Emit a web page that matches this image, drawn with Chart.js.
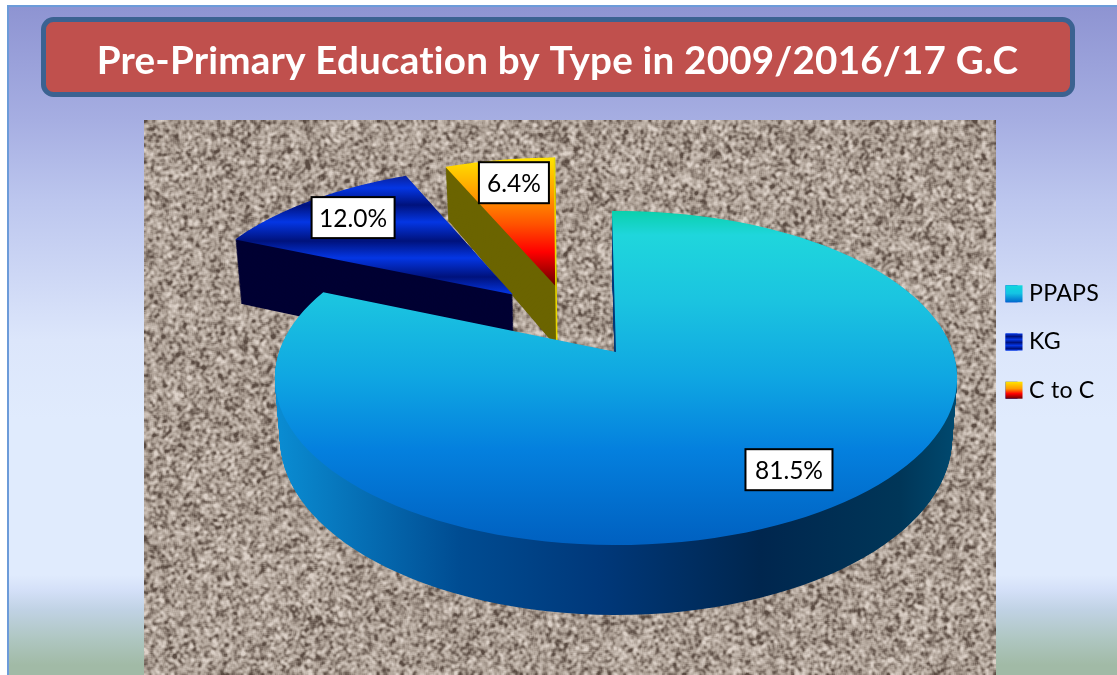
<!DOCTYPE html>
<html>
<head>
<meta charset="utf-8">
<style>html,body{margin:0;padding:0;background:#fff;overflow:hidden}canvas{display:block}</style>
<script src="https://cdn.jsdelivr.net/npm/chart.js@4"></script>
</head>
<body>
<canvas id="c" width="1117" height="675"></canvas>
<script>
const titleText = "Pre-Primary Education by Type in 2009/2016/17 G.C";
const categories = ["PPAPS", "KG", "C to C"];
const shares = [81.5, 12.0, 6.4];
const shareLabels = ["81.5%", "12.0%", "6.4%"];

// drawing style: exploded-slice vectors in disc units, label placement, wall depth factor
const explode = [[0, 0], [-0.345, 0.385], [-0.21, 0.465]];
const apexShift = [[0, 0], [0.021, -0.012], [0.02, -0.037]];
const labelFactor = [0.83, 0.8, 0.77];
const labelNudge = [[-2, -8], [6, 0], [4, -2.5]];
const labelBox = [[87, 41], [83, 41], [70, 41]];
const wallScale = [1, 1.22, 1.1];
const startRotation = -0.8;

const VIEW = {cx: 616, cy: 352, A: 163, B: 337, k: 0.1557, depth: 59, shrink: 0.985};

function project(u, v, t, wall) {
  const d = 1 + VIEW.k * v;
  let x = VIEW.cx + VIEW.B * u / d;
  let y = VIEW.cy - VIEW.A * v / d;
  if (t) {
    x = VIEW.cx + (x - VIEW.cx) * (1 - (1 - VIEW.shrink) * t);
    y += VIEW.depth * wall * t / d;
  }
  return [x, y];
}
function grad(ctx, x0, y0, x1, y1, stops) {
  const g = ctx.createLinearGradient(x0, y0, x1, y1);
  const a = stops[0][0], b = stops[stops.length - 1][0];
  stops.forEach(s => g.addColorStop((s[0] - a) / (b - a), s[1]));
  return g;
}
const topStops = [
  [[211,'#0ad0ac'],[235,'#1fd6dc'],[300,'#1bc4e0'],[378,'#0fa6e2'],[450,'#0480de'],[545,'#0060c0']],
  [[175,'#0a1f96'],[188,'#0436e4'],[205,'#00127c'],[222,'#0436e4'],[241,'#00127c'],[258,'#0436e4'],[277,'#00127c'],[294,'#0436e4']],
  [[157,'#ffe600'],[195,'#ff9a00'],[225,'#ff5000'],[252,'#ff0000'],[285,'#6a0000']]
];
const wallStops = [
  [[278,'#0a8cd2'],[460,'#004c92'],[600,'#00387a'],[760,'#00264e'],[900,'#003658'],[958,'#004a70']],
  null, null
];
const wallFlat = [null, '#000033', '#6b6400'];

// speckled backdrop, from a fixed-seed generator so it never changes
function makeTexture(w, h) {
  const cv = document.createElement('canvas'); cv.width = w; cv.height = h;
  const c = cv.getContext('2d'); const img = c.createImageData(w, h);
  let s = 12345; const rnd = () => (s = (s * 1664525 + 1013904223) >>> 0) / 4294967296;
  let n = new Float32Array(w * h); for (let i = 0; i < n.length; i++) n[i] = rnd();
  const blur = src => {
    const out = new Float32Array(w * h);
    for (let y = 0; y < h; y++) for (let x = 0; x < w; x++) {
      let t = 0, q = 0;
      for (let dy = -1; dy <= 1; dy++) for (let dx = -1; dx <= 1; dx++) {
        const xx = x + dx, yy = y + dy;
        if (xx >= 0 && yy >= 0 && xx < w && yy < h) { t += src[yy * w + xx]; q++; }
      }
      out[y * w + x] = t / q;
    }
    return out;
  };
  n = blur(blur(n));
  for (let i = 0; i < n.length; i++) {
    const t = Math.max(-1, Math.min(1, (n[i] - 0.5) * 6));
    const d = img.data, j = i * 4;
    if (t >= 0) { d[j] = 170 + t * 50; d[j+1] = 157 + t * 52; d[j+2] = 146 + t * 54; }
    else { d[j] = 170 + t * 80; d[j+1] = 157 + t * 82; d[j+2] = 146 + t * 80; }
    d[j+3] = 255;
  }
  c.putImageData(img, 0, 0);
  return cv;
}
const texture = makeTexture(852, 555);

const scene = {
  id: 'scene',
  beforeDraw(chart) {
    const ctx = chart.ctx;
    ctx.save();
    ctx.fillStyle = '#ffffff'; ctx.fillRect(0, 0, 1117, 675);
    ctx.fillStyle = grad(ctx, 0, 7, 0, 675, [[7,'#8e94d2'],[120,'#a6aee2'],[200,'#bcc6ee'],[340,'#dce6fb'],[420,'#e0ebfd'],[575,'#e0ebfd'],[590,'#d4e0f8'],[610,'#c0d2e4'],[640,'#aec6c0'],[665,'#a1baa6'],[675,'#a1baa6']]);
    ctx.fillRect(8, 6, 1109, 669);
    ctx.fillStyle = '#6c9bd9';
    ctx.fillRect(7, 5, 1110, 2); ctx.fillRect(7, 5, 2, 670);
    ctx.beginPath(); ctx.roundRect(43.5, 19.5, 1029, 75, 10);
    ctx.fillStyle = '#c0504d'; ctx.fill();
    ctx.lineWidth = 5; ctx.strokeStyle = '#3b6291'; ctx.stroke();
    ctx.drawImage(texture, 144, 120);
    ctx.restore();
    ctx.letterSpacing = '0.2px';
  },
  beforeDatasetDraw() { return false; },
  afterDatasetsDraw(chart) {
    const ctx = chart.ctx, arcs = chart.getDatasetMeta(0).data;
    ctx.save();
    [2, 1, 0].forEach(i => {
      const a = arcs[i], th0 = a.startAngle + Math.PI / 2, th1 = a.endAngle + Math.PI / 2;
      const [ox, oy] = explode[i], w = wallScale[i];
      const steps = 120, rim = [[ox + apexShift[i][0], oy + apexShift[i][1]]];
      for (let s = 0; s <= steps; s++) {
        const t = th0 + (th1 - th0) * s / steps;
        rim.push([ox + Math.sin(t), oy + Math.cos(t)]);
      }
      const trace = (t) => {
        ctx.beginPath();
        rim.forEach((p, n) => { const q = project(p[0], p[1], t, w); n ? ctx.lineTo(q[0], q[1]) : ctx.moveTo(q[0], q[1]); });
        ctx.closePath();
      };
      ctx.fillStyle = wallStops[i] ? grad(ctx, wallStops[i][0][0], 0, wallStops[i][wallStops[i].length-1][0], 0, wallStops[i]) : wallFlat[i];
      for (let layer = 80; layer > 0; layer--) { trace(layer / 80); ctx.fill(); }
      const ts = topStops[i];
      trace(0);
      ctx.fillStyle = grad(ctx, 0, ts[0][0], 0, ts[ts.length-1][0], ts);
      ctx.fill();
      if (i === 2) {
        const last = rim[rim.length - 1];
        const e1 = project(last[0], last[1], 0, w);
        const e0 = project(rim[0][0], rim[0][1], 0, w), e3 = project(rim[0][0], rim[0][1], 1, w);
        ctx.strokeStyle = '#e8d800'; ctx.lineWidth = 1.6;
        ctx.beginPath(); ctx.moveTo(e1[0], e1[1]); ctx.lineTo(e0[0], e0[1]); ctx.lineTo(e3[0], e3[1]); ctx.stroke();
      }
    });
    // value labels
    ctx.letterSpacing = '0px';
    ctx.font = '24.5px Lato'; ctx.textAlign = 'center'; ctx.textBaseline = 'middle';
    arcs.forEach((a, i) => {
      const mid = (a.startAngle + a.endAngle) / 2 + Math.PI / 2, f = labelFactor[i];
      const q = project(explode[i][0] + f * Math.sin(mid), explode[i][1] + f * Math.cos(mid), 0, 1);
      const x = q[0] + labelNudge[i][0], y = q[1] + labelNudge[i][1], [bw, bh] = labelBox[i];
      ctx.fillStyle = '#ffffff'; ctx.strokeStyle = '#000000'; ctx.lineWidth = 2;
      ctx.fillRect(x - bw / 2, y - bh / 2, bw, bh); ctx.strokeRect(x - bw / 2, y - bh / 2, bw, bh);
      ctx.fillStyle = '#000000'; ctx.fillText(shareLabels[i], x, y + 1);
    });
    ctx.restore();
  },
  afterDraw(chart) {
    // full-width legend swatches over the narrower native legend boxes
    const ctx = chart.ctx, hits = chart.legend.legendHitBoxes;
    ctx.save();
    hits.forEach((h, i) => {
      const top = h.top + (h.height - 17) / 2, st = legendStops[i];
      const span = st[st.length - 1][0] - st[0][0];
      const g = ctx.createLinearGradient(0, top, 0, top + 17);
      st.forEach(s => g.addColorStop((s[0] - st[0][0]) / span, s[1]));
      ctx.fillStyle = g;
      ctx.fillRect(h.left, top, 17, 17);
    });
    ctx.restore();
  }
};

const legendStops = [
  [[0,'#10d8dc'],[8,'#14c4e4'],[17,'#0068cc']],
  [[0,'#0436e4'],[3,'#00127c'],[6,'#0436e4'],[9,'#00127c'],[12,'#0436e4'],[15,'#00127c'],[17,'#0436e4']],
  [[0,'#ffe600'],[7,'#ff9a00'],[12,'#ff0000'],[17,'#6a0000']]
];

const cv = document.getElementById('c');

new Chart(cv, {
  type: 'pie',
  data: {labels: categories, datasets: [{data: shares, backgroundColor: ['#14b4e4', '#0436e4', '#ff5000'], borderWidth: 0}]},
  plugins: [scene],
  options: {
    responsive: false,
    animation: false,
    rotation: startRotation,
    layout: {padding: {top: 9, right: 9, bottom: 0, left: 7}},
    plugins: {
      tooltip: {enabled: false},
      title: {display: true, text: titleText, color: '#ffffff', font: {family: 'Lato', size: 38.6, weight: 'bold'}, padding: {top: 29, bottom: 14}},
      legend: {
        position: 'right',
        labels: {
          boxWidth: 12, boxHeight: 17, padding: 25, color: '#000000',
          font: {family: 'Lato', size: 23.2},
          generateLabels(chart) {
            return categories.map((name, i) => ({text: name, fillStyle: '#0436e4', strokeStyle: 'rgba(0,0,0,0)', lineWidth: 0, index: i}));
          }
        }
      }
    }
  }
});
</script>
</body>
</html>
